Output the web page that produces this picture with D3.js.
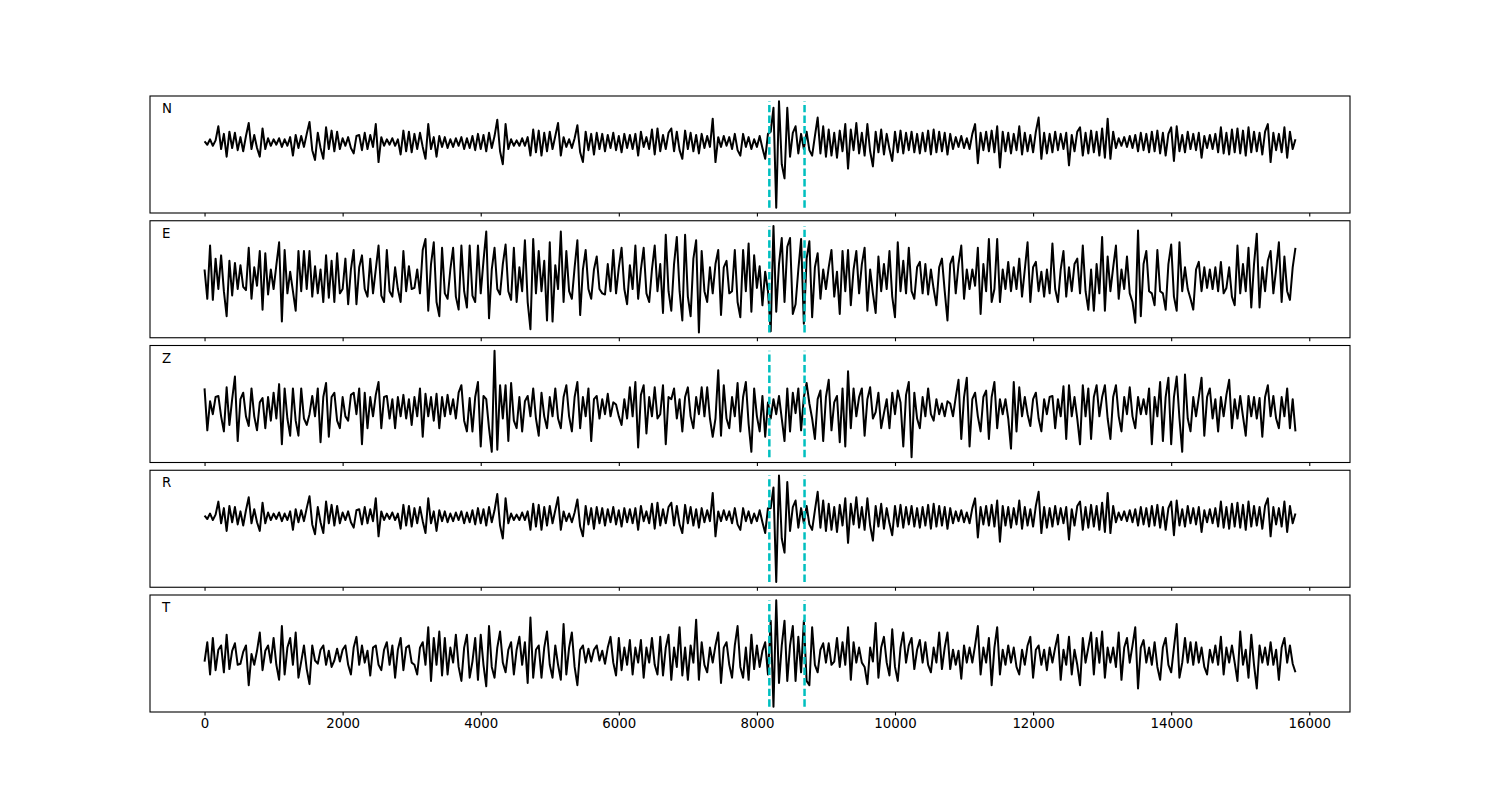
<!DOCTYPE html>
<html>
<head>
<meta charset="utf-8">
<script src="https://cdn.jsdelivr.net/npm/d3@7"></script>
<style>
  body { margin: 0; background: #ffffff; }
  text { font-family: "DejaVu Sans", sans-serif; }
</style>
</head>
<body>
<svg id="chart" width="1500" height="800"></svg>
<script>
// ---------------- data ----------------
const sampleStep = 40;                       // samples between stored points
const componentNames = ["N", "E", "Z", "R", "T"];
const pickTimes = [8180, 8690];
const xTickValues = [0, 2000, 4000, 6000, 8000, 10000, 12000, 14000, 16000];

const traceN = [
 1,-2,3,-3,2,15,-6,8,-13,10,-5,9,-7,5,-8,6,18,-6,7,-5,
 -13,13,-6,4,-3,3,-2,4,-4,3,-3,5,-12,7,-5,6,-4,8,19,-7,
 -16,9,-5,-15,14,-6,11,-8,10,-6,4,-3,5,-5,-10,6,7,-7,9,-6,
 7,-4,17,-18,5,-3,3,-2,4,-3,3,-11,11,-8,10,-9,8,-6,9,-4,
 -15,17,-6,5,-13,6,-4,5,-5,3,-4,4,-3,5,-6,4,-5,6,-7,8,
 -6,7,-8,9,-5,6,21,-8,-20,17,-6,3,-3,2,-3,4,-3,5,-12,12,
 -9,11,-12,9,-8,10,-6,6,18,-12,5,-4,3,-5,4,16,-9,-18,10,-7,
 8,-11,9,-6,8,-8,7,-5,9,-7,6,-9,8,-5,7,-6,8,-12,10,-4,
 5,-6,12,-11,13,-8,7,-6,9,13,-8,10,-7,-15,11,-6,9,-8,7,-10,
 8,-5,6,-4,22,-18,5,-4,6,-3,5,-6,8,-7,-12,8,-4,5,-6,3,
 -4,6,-5,-15,8,10,32,-60,38,-20,-33,32,-13,9,15,-10,8,-6,10,-7,
 -12,6,23,-10,15,-13,12,-12,9,-14,11,-8,17,-24,12,-7,18,-10,9,-12,
 17,-8,-22,10,-9,12,-11,8,-6,-17,10,-9,11,-10,9,-7,10,-9,8,-10,
 9,-8,11,-11,12,-9,10,-8,9,-11,8,-6,5,-4,6,-5,4,-6,8,17,
 -19,9,-7,10,-8,11,-9,15,-23,10,-8,9,-10,8,-7,15,-11,9,-8,7,
 -9,10,23,-15,9,-10,8,-9,10,-7,8,-6,9,-21,7,-8,10,14,-12,9,
 -10,11,-9,10,-12,13,-14,22,-15,10,-5,4,-3,5,-4,6,-5,7,-8,9,
 -7,8,-9,10,-8,11,-10,9,-12,8,14,-17,15,-8,7,-9,10,-6,8,-7,
 9,-14,6,-5,7,-6,8,-9,14,-10,9,-11,12,-9,13,-10,11,-12,14,-9,
 10,-8,9,-11,10,17,-18,9,-7,8,-9,14,-14,10,-6,3
];

const traceE = [
 10,-17,32,-18,20,-8,23,-10,-33,18,-14,16,-8,14,-6,-9,30,-17,12,-5,
 27,-27,25,-13,10,-8,14,35,-38,28,-12,8,-10,-28,27,-10,27,-8,27,-15,
 13,-12,10,-20,23,-16,18,-20,25,-12,-8,20,-22,10,28,-22,12,23,-8,-15,
 20,-12,10,32,-14,-20,28,-10,-15,12,-8,-20,27,-10,13,-8,-7,10,-12,28,
 38,-28,15,35,-20,-33,30,-12,-17,10,30,-15,-27,32,-10,-25,32,-14,-20,32,
 -12,18,45,-35,10,30,-8,-13,15,33,-10,-18,30,-20,12,-10,37,-20,-45,38,
 -12,27,-10,18,-37,35,-38,14,-8,45,-20,27,-10,-17,12,37,-32,10,28,-8,
 -17,10,22,-8,-12,-13,15,-10,28,-12,12,30,-8,-22,14,-8,32,-17,10,30,
 -12,-20,10,32,-10,15,-30,42,-10,-28,15,40,-10,-37,42,-15,-33,20,37,-48,
 27,-10,-20,12,-12,15,28,-32,12,18,-12,-10,28,-20,-34,28,-10,34,-29,23,
 -7,13,-23,8,-10,-47,50,-29,15,39,-20,31,39,-31,-22,10,38,-40,20,36,
 -34,12,25,-17,10,-8,12,28,-15,8,-31,27,-10,28,-23,10,27,-12,15,30,
 -28,10,-12,-30,22,-10,15,-8,27,-15,-34,35,-10,18,-12,30,-10,-17,12,17,
 -12,15,-13,10,-8,-23,12,20,-10,-37,15,22,-12,15,32,-17,10,-8,10,-5,
 30,-31,15,-10,38,-20,-8,38,-20,10,-8,17,-10,12,-8,20,-15,10,35,-20,
 12,17,-10,8,-15,10,-12,34,-8,-20,10,27,-15,12,-10,15,20,-12,32,-10,
 -27,10,-28,15,-12,40,-28,22,-10,12,32,-17,10,-8,22,-12,-20,-39,46,-33,
 15,27,-10,-12,-23,28,-10,-12,-27,15,33,-15,-28,35,-10,12,-8,-17,-27,10,
 17,-10,12,-7,10,-8,12,-10,17,-12,-7,12,-15,-23,32,-12,15,-10,30,-25,
 15,43,-25,12,-10,18,27,-12,10,35,-20,22,-10,-18,12,30
];

const traceZ = [
 18,-21,6,-6,10,11,-8,-22,19,-16,8,29,-31,8,14,-8,-17,18,-8,-21,
 5,9,-19,10,-12,14,-10,22,-34,18,-10,-26,18,-12,-26,18,-10,-16,-6,11,
 -8,18,-32,10,23,-27,10,14,-12,-19,10,-8,-12,12,14,-6,18,-34,14,-19,
 10,-8,12,24,-19,10,11,-10,8,-19,10,-8,12,-10,8,-16,10,-8,18,-27,
 13,-8,10,-12,13,-19,10,-8,12,-6,8,-10,14,21,-12,-22,9,-22,10,24,
 -36,11,8,-19,-41,53,-39,21,-10,21,-31,23,-12,-19,10,-22,6,11,-8,18,
 -10,-26,14,-8,-19,10,-8,18,-10,-19,10,21,-8,-22,10,24,-19,10,-8,18,
 -31,8,11,-10,8,-6,13,-8,5,3,-8,-16,8,-10,19,-8,24,-37,12,21,
 -24,10,-8,19,-10,-6,21,-34,10,8,18,-10,8,-22,10,19,-8,-19,10,-6,
 19,-8,19,-10,-27,-10,35,-26,21,-10,-19,10,-8,23,-22,10,24,-15,-41,18,
 -8,-22,11,-27,5,-10,8,-6,11,-10,-31,18,-22,14,-5,18,-21,10,23,4,
 -10,-29,8,16,-31,10,26,-21,5,11,-32,18,-36,34,-19,18,-8,10,18,-26,
 8,19,-10,-4,14,-19,-5,8,-19,14,-6,16,5,-36,12,24,-46,14,-10,-19,
 10,-8,18,-6,-12,8,-6,4,-8,6,4,-8,10,26,-29,10,28,-36,8,14,
 -8,-22,10,16,-29,10,24,-19,8,-6,8,-10,-38,24,-22,19,-8,10,-6,-17,
 8,14,-10,-22,8,-6,10,11,-19,8,-8,20,-29,21,-8,10,-10,-34,21,-8,
 18,-29,10,21,-8,10,21,-10,-29,10,21,-8,-22,10,-6,19,-8,-19,10,-6,
 8,-6,18,-34,10,-8,24,-31,10,28,-34,10,29,-10,-41,31,-10,-22,10,-8,
 10,28,-26,10,18,-10,8,-22,10,-8,12,26,-19,8,-10,11,-8,-26,11,-8,
 10,-10,9,-27,10,21,-8,11,-10,-19,10,-8,18,-19,8,-22
];

const traceR = [
 1,-2,3,-3,2,14,-6,8,-13,10,-5,9,-7,5,-8,6,18,-6,7,-5,
 -13,13,-6,4,-3,3,-2,4,-4,3,-3,5,-12,7,-5,6,-4,8,19,-7,
 -16,9,-5,-15,14,-6,11,-8,10,-6,4,-3,5,-5,-10,6,7,-7,9,-6,
 7,-4,17,-18,5,-3,3,-2,4,-3,3,-11,11,-8,10,-9,8,-6,9,-4,
 -15,17,-6,5,-13,6,-4,5,-5,3,-4,4,-3,5,-6,4,-5,6,-7,8,
 -6,7,-8,9,-5,6,21,-8,-20,17,-6,3,-3,2,-3,4,-3,5,-12,12,
 -9,11,-12,9,-8,10,-6,6,18,-12,5,-4,3,-5,4,16,-9,-18,10,-7,
 8,-11,9,-6,8,-8,7,-5,9,-7,6,-9,8,-5,7,-6,8,-12,10,-4,
 5,-6,12,-11,13,-8,7,-6,9,13,-8,10,-7,-15,11,-6,9,-8,7,-10,
 8,-5,6,-4,22,-18,5,-4,6,-3,5,-6,8,-7,-12,8,-4,5,-6,3,
 -4,6,-5,-15,8,8,27,-60,38,-20,-33,32,-13,9,15,-10,8,-6,10,-7,
 -12,6,23,-10,15,-13,12,-12,9,-14,11,-8,17,-24,12,-7,18,-10,9,-12,
 17,-8,-22,10,-9,12,-11,8,-6,-17,10,-9,11,-10,9,-7,10,-9,8,-10,
 9,-8,11,-11,12,-9,10,-8,9,-11,8,-6,5,-4,6,-5,4,-6,8,17,
 -19,9,-7,10,-8,11,-9,15,-23,10,-8,9,-10,8,-7,15,-11,9,-8,7,
 -9,10,23,-15,9,-10,8,-9,10,-7,8,-6,9,-21,7,-8,10,14,-12,9,
 -10,11,-9,10,-12,13,-14,22,-15,10,-5,4,-3,5,-4,6,-5,7,-8,9,
 -7,8,-9,10,-8,11,-10,9,-12,8,14,-17,15,-8,7,-9,10,-6,8,-7,
 9,-14,6,-5,7,-6,8,-9,14,-10,9,-11,12,-9,13,-10,11,-12,14,-9,
 10,-8,9,-11,10,17,-18,9,-7,8,-9,14,-14,10,-6,3
];

const traceT = [
 -5,13,-17,17,-13,6,10,-15,20,-12,5,12,-8,-7,4,10,-27,2,-8,5,
 22,-13,5,10,-6,17,-8,-22,28,-17,8,17,-8,22,-20,-5,10,-12,-26,10,
 -4,-7,6,10,-8,5,-10,-4,7,-5,6,10,-8,-17,8,18,-8,10,-6,5,
 -18,8,10,-8,-13,6,13,-8,10,-20,6,17,-13,8,10,-6,-8,-17,8,13,
 -8,27,-23,17,-8,23,-18,17,-17,8,-6,20,-10,-23,8,20,-20,-5,17,-22,
 20,-8,-28,28,-10,-20,8,23,-6,-15,6,13,-17,6,18,-8,13,-25,36,-20,
 6,10,-20,8,23,-8,-20,10,-8,-22,30,-17,8,22,-10,-27,6,10,-6,7,
 -5,6,10,-4,5,-7,8,18,-6,-18,17,-13,8,-8,15,-17,8,-6,15,-20,
 8,-6,17,-8,-17,18,-18,8,20,-22,8,-10,27,-18,8,-22,10,-6,34,-22,
 13,-8,-15,8,-6,10,22,-25,8,13,-8,-20,10,28,-10,-20,8,-22,20,-12,
 10,-10,5,13,-17,33,-47,52,-25,10,33,-23,10,28,-23,18,-15,33,-23,-27,
 27,-8,-15,6,12,-6,12,-8,-5,17,-10,13,-8,27,-22,13,-6,8,-6,-10,
 -26,8,-5,31,-20,8,18,-6,-18,25,-10,-23,8,22,-6,10,17,-12,6,15,
 -6,13,-8,-15,8,-6,22,-12,8,22,-12,6,-8,5,-21,10,-6,8,-6,10,
 28,-17,8,-6,17,-27,8,27,-17,6,-8,10,-6,8,-10,-17,6,-8,10,18,
 -20,6,10,-8,6,-13,8,-6,8,20,-22,6,-8,18,-17,6,-8,-27,17,-6,
 8,22,-17,17,-6,23,-20,8,-6,8,-10,22,-22,8,17,-6,10,27,-30,8,
 15,-6,8,-8,13,-10,-22,8,17,-8,-15,8,30,-20,-6,17,-6,13,-8,13,
 -6,8,-10,-17,6,-6,10,-8,18,-17,8,-6,10,-6,-23,23,-8,6,-20,20,
 -8,-30,10,-6,8,-8,13,-8,6,-22,8,17,-6,10,-7,-15
];

const traces = [traceN, traceE, traceZ, traceR, traceT];

// ---------------- layout ----------------
(function draw() {
  const svg = d3.select("#chart");
  const plotLeft = 150, plotRight = 1350, plotTop = 96, plotBottom = 712;
  const gap = 7.75;
  const nPanels = traces.length;
  const panelH = (plotBottom - plotTop - gap * (nPanels - 1)) / nPanels;

  const tMax = (traceN.length - 1) * sampleStep;
  const xPad = tMax * 0.05;
  const x = d3.scaleLinear().domain([-xPad, tMax + xPad]).range([plotLeft, plotRight]);

  const lineColor = "#000000";
  const pickColor = "#00bfbf";

  traces.forEach((trace, p) => {
    const y0 = plotTop + p * (panelH + gap);
    const [mn, mx] = d3.extent(trace);
    const span = mx - mn;
    const y = d3.scaleLinear()
      .domain([mn - 0.05 * span, mx + 0.05 * span])
      .range([y0 + panelH, y0]);

    const g = svg.append("g");

    const axis = d3.axisBottom(x)
      .tickValues(xTickValues)
      .tickSize(3.5)
      .tickPadding(3.5)
      .tickFormat(p === nPanels - 1 ? d3.format("d") : () => "");
    const ax = g.append("g")
      .attr("transform", `translate(0,${y0 + panelH})`)
      .call(axis);
    ax.select(".domain").remove();
    ax.selectAll(".tick line").attr("stroke", "#000").attr("stroke-width", 1.1);
    ax.selectAll(".tick text")
      .attr("fill", "#000")
      .style("font-size", "13.33px")
      .style("font-family", "'DejaVu Sans', sans-serif");

    const line = d3.line()
      .x((d, i) => x(i * sampleStep))
      .y(d => y(d));
    g.append("path")
      .datum(trace)
      .attr("d", line)
      .attr("fill", "none")
      .attr("stroke", lineColor)
      .attr("stroke-width", 2)
      .attr("stroke-linejoin", "round");

    g.selectAll(".pick")
      .data(pickTimes)
      .enter().append("line")
      .attr("class", "pick")
      .attr("x1", d => x(d)).attr("x2", d => x(d))
      .attr("y1", y(mn)).attr("y2", y(mx))
      .attr("stroke", pickColor)
      .attr("stroke-width", 2.5)
      .attr("stroke-dasharray", "7.4,3.2");

    g.append("rect")
      .attr("x", plotLeft).attr("y", y0)
      .attr("width", plotRight - plotLeft).attr("height", panelH)
      .attr("fill", "none")
      .attr("stroke", "#000")
      .attr("stroke-width", 1.1);

    g.append("text")
      .attr("x", plotLeft + 12)
      .attr("y", y0 + 17)
      .attr("fill", "#000")
      .style("font-size", "13.33px")
      .text(componentNames[p]);
  });
})();
</script>
</body>
</html>
